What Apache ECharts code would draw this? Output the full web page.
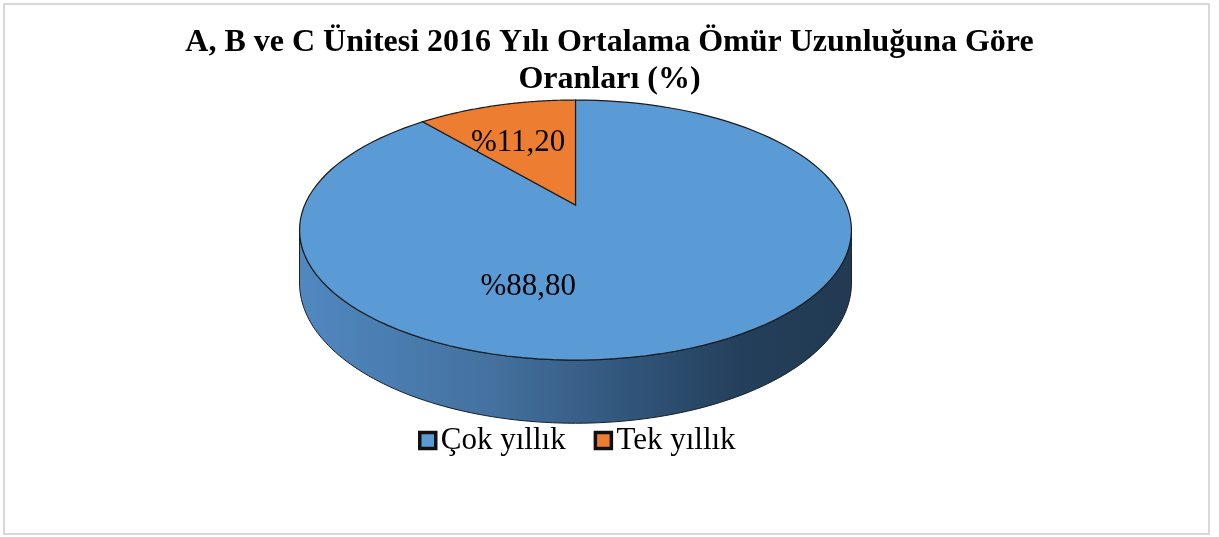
<!DOCTYPE html>
<html>
<head>
<meta charset="utf-8">
<script src="https://cdn.jsdelivr.net/npm/echarts@6/dist/echarts.min.js"></script>
<style>
html, body { margin: 0; padding: 0; background: #fff; }
#main { width: 1219px; height: 537px; }
</style>
</head>
<body>
<div id="main"></div>
<script>
// veriler
var titleText = 'A, B ve C Ünitesi 2016 Yılı Ortalama Ömür Uzunluğuna Göre\nOranları (%)';
var categories = ['Çok yıllık', 'Tek yıllık'];
var values = [88.8, 11.2];
var colors = ['#5b9bd5', '#ed7d31'];

// 3D pasta geometrisi (perspektifli disk)
var cx = 575.5, cy = 205, A = 270.8, B = 125.2, K = 0.1926, H = 51;
var labelAngles = [195, 337]; // derece, saat yönünde tepeden
var labelR = 0.6;
var sideStops = [
  [[0, '#5088c0'], [0.35, '#44719f'], [0.6, '#31557a'], [0.8, '#243f5b'], [1, '#223a52']],
  [[0, '#c06428'], [0.5, '#9a4f1f'], [1, '#6e3816']]
];
var font = '"Liberation Serif", "Times New Roman", serif';

function project(theta, r, down) {
  var u = r * Math.sin(theta), v = -r * Math.cos(theta);
  var w = 1 - K * v;
  return [cx + A * u / w, cy + B * v / w + (down ? H / w : 0)];
}

function fmt(v) {
  return '%' + v.toFixed(2).replace('.', ',');
}

function renderSlice(idx) {
  return function (params, api) {
    var total = 0, start = 0;
    values.forEach(function (v, j) {
      total += v;
      if (j < idx) start += v;
    });
    var a0 = start / total * Math.PI * 2;
    var a1 = (start + values[idx]) / total * Math.PI * 2;
    var steps = 120;
    var top = [project(0, 0)];
    for (var s = 0; s <= steps; s++) {
      top.push(project(a0 + (a1 - a0) * s / steps, 1));
    }
    var children = [];
    // yan yüzey (sadece görünen ön kısım)
    var sil0 = Math.acos(-K), sil1 = Math.PI * 2 - Math.acos(-K);
    var s0 = Math.max(a0, sil0), s1 = Math.min(a1, sil1);
    if (s1 > s0) {
      var side = [];
      for (var i = 0; i <= steps; i++) side.push(project(s0 + (s1 - s0) * i / steps, 1));
      for (var k = steps; k >= 0; k--) side.push(project(s0 + (s1 - s0) * k / steps, 1, true));
      children.push({
        type: 'polygon',
        shape: { points: side },
        style: {
          fill: new echarts.graphic.LinearGradient(0, 0, 1, 0, sideStops[idx].map(function (c) {
            return { offset: c[0], color: c[1] };
          })),
          stroke: '#15202b',
          lineWidth: 1
        },
        z2: 1
      });
    }
    children.push({
      type: 'polygon',
      shape: { points: top },
      style: { fill: colors[idx], stroke: '#1a1a1a', lineWidth: 1.2 },
      z2: 5
    });
    var lp = project(labelAngles[idx] * Math.PI / 180, labelR);
    children.push({
      type: 'text',
      x: lp[0],
      y: lp[1],
      style: {
        text: fmt(values[idx]),
        fill: '#000',
        font: '31px ' + font,
        textAlign: 'center',
        textVerticalAlign: 'middle'
      },
      z2: 10
    });
    return { type: 'group', children: children };
  };
}

var chart = echarts.init(document.getElementById('main'));
var option = {
  animation: false,
  backgroundColor: '#fff',
  title: {
    text: titleText,
    left: 'center',
    top: 19,
    textStyle: {
      fontFamily: font,
      fontWeight: 'bold',
      fontSize: 32,
      lineHeight: 37,
      color: '#000'
    }
  },
  legend: {
    data: categories,
    left: 413,
    top: 420,
    icon: 'rect',
    itemWidth: 16,
    itemHeight: 16,
    itemGap: 28,
    itemStyle: { borderColor: '#111', borderWidth: 3.5 },
    textStyle: { fontFamily: font, fontSize: 31, color: '#000' }
  },
  graphic: [{
    type: 'rect',
    shape: { x: 4, y: 4, width: 1205, height: 530 },
    style: { fill: 'none', stroke: '#d9d9d9', lineWidth: 2 },
    silent: true
  }],
  series: categories.map(function (name, i) {
    return {
      type: 'custom',
      name: name,
      coordinateSystem: 'none',
      itemStyle: { color: colors[i] },
      renderItem: renderSlice(i),
      data: [values[i]]
    };
  })
};
chart.setOption(option);
window.addEventListener('resize', function () {
  chart.resize();
});
</script>
</body>
</html>
